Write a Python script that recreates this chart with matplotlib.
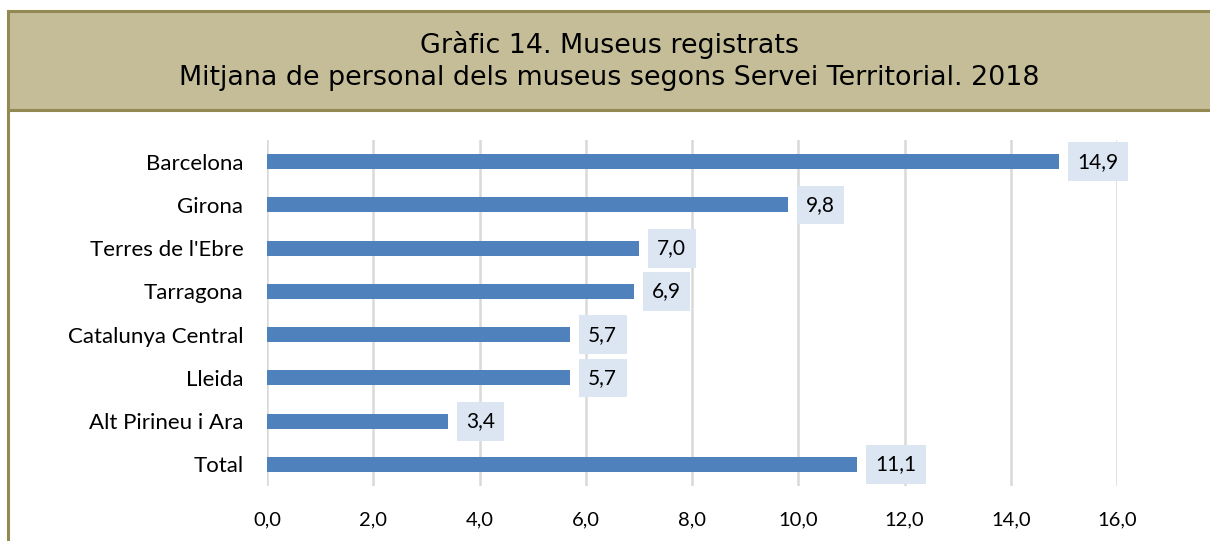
import matplotlib.pyplot as plt
from matplotlib.patches import Rectangle
from matplotlib.lines import Line2D

# data
territoris = ['Barcelona', 'Girona', "Terres de l'Ebre", 'Tarragona',
              'Catalunya Central', 'Lleida', 'Alt Pirineu i Ara', 'Total']
mitjana = [14.9, 9.8, 7.0, 6.9, 5.7, 5.7, 3.4, 11.1]
xticks = [0, 2, 4, 6, 8, 10, 12, 14, 16]

W, H = 1210, 541
fig = plt.figure(figsize=(W / 100, H / 100), dpi=100)
fig.patch.set_facecolor('white')

# title box
fig.patches.append(Rectangle((8 / W, 1 - 110 / H), 1.0, 99 / H, transform=fig.transFigure,
                             facecolor='#C4BD97', edgecolor='#938953', linewidth=2.2))
fig.lines.append(Line2D([8 / W, 8 / W], [0, 1 - 110 / H], transform=fig.transFigure,
                        color='#938953', linewidth=2.2))
fig.text(609 / W, 1 - 45 / H, 'Gràfic 14. Museus registrats', ha='center', va='center',
         fontsize=19.4, family='DejaVu Sans')
fig.text(609 / W, 1 - 78 / H, 'Mitjana de personal dels museus segons Servei Territorial. 2018',
         ha='center', va='center', fontsize=19.4, family='DejaVu Sans')

ax = fig.add_axes([267 / W, 1 - 486 / H, 850 / W, 346 / H])
y = list(range(len(territoris)))
ax.barh(y, mitjana, height=0.35, color='#4F81BD', zorder=3)
ax.set_ylim(len(territoris) - 0.5, -0.5)
ax.set_xlim(0, 16)
ax.set_yticks(y)
ax.set_yticklabels(territoris, fontsize=16, family='Lato')
ax.set_xticks(xticks)
ax.set_xticklabels([f'{v:.1f}'.replace('.', ',') for v in xticks], fontsize=14.5, family='Lato')
ax.tick_params(length=0)
ax.tick_params(axis='x', pad=18)
ax.tick_params(axis='y', pad=17)
ax.grid(axis='x', color='#D9D9D9', linewidth=1.8, zorder=0)
for s in ax.spines.values():
    s.set_visible(False)

for yi, v in zip(y, mitjana):
    ax.annotate(f'{v:.1f}'.replace('.', ','), (v, yi), xytext=(13.3, 0), textcoords='offset points',
                va='center', ha='left', fontsize=15, family='Lato', zorder=4,
                bbox=dict(boxstyle='square,pad=0.45', facecolor='#DCE6F2', edgecolor='none'))

fig.savefig('out.png', dpi=100)
